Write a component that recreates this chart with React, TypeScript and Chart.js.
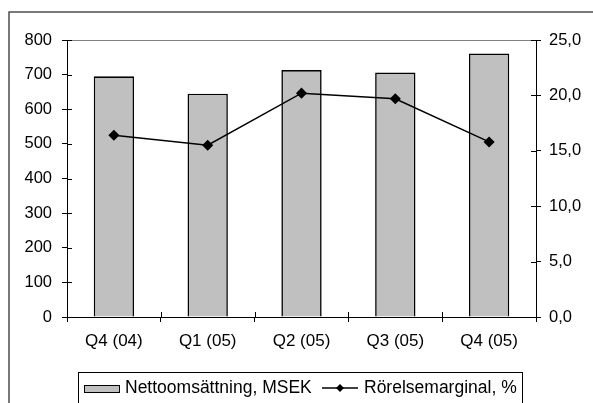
import React, { useEffect, useRef } from "react";
import { Chart, registerables } from "chart.js";

Chart.register(...registerables);

const categories = ["Q4 (04)", "Q1 (05)", "Q2 (05)", "Q3 (05)", "Q4 (05)"];
const revenue = [695, 645, 713, 706, 761];
const margin = [16.4, 15.5, 20.2, 19.7, 15.8];
const revenueLabel = "Nettoomsättning, MSEK";
const marginLabel = "Rörelsemarginal, %";

const FONT = '"Liberation Sans", Arial, sans-serif';

const decorPlugin = {
  id: "decor",
  beforeDraw(chart: any) {
    const ctx = chart.ctx;
    const a = chart.chartArea;
    ctx.save();
    ctx.fillStyle = "#ffffff";
    ctx.fillRect(0, 0, chart.width, chart.height);
    ctx.strokeStyle = "#808080";
    ctx.lineWidth = 1;
    ctx.strokeRect(Math.round(a.left) + 0.5, Math.round(a.top) + 0.5, Math.round(a.right - a.left), Math.round(a.bottom - a.top));
    ctx.restore();
  },
  afterDatasetsDraw(chart: any) {
    const ctx = chart.ctx;
    const a = chart.chartArea;
    ctx.save();
    ctx.strokeStyle = "#000000";
    ctx.lineWidth = 1;
    ctx.beginPath();
    const y = chart.scales.y;
    y.ticks.forEach((_t: any, i: number) => {
      const py = Math.round(y.getPixelForTick(i)) + 0.5;
      ctx.moveTo(a.left, py);
      ctx.lineTo(a.left + 5, py);
    });
    const y1 = chart.scales.y1;
    y1.ticks.forEach((_t: any, i: number) => {
      const py = Math.round(y1.getPixelForTick(i)) + 0.5;
      ctx.moveTo(a.right - 5, py);
      ctx.lineTo(a.right, py);
    });
    const x = chart.scales.x;
    const n = categories.length;
    for (let i = 0; i <= n; i++) {
      const px = Math.round(x.left + (i * (x.right - x.left)) / n) + 0.5;
      ctx.moveTo(px, a.bottom);
      ctx.lineTo(px, a.bottom - 5);
    }
    ctx.stroke();
    ctx.restore();
  },
  afterDraw(chart: any) {
    const ctx = chart.ctx;
    ctx.save();
    // outer frame
    ctx.strokeStyle = "#333333";
    ctx.lineWidth = 1.3;
    ctx.strokeRect(9, 12, chart.width + 20, chart.height + 20);
    // legend box
    ctx.strokeStyle = "#000000";
    ctx.lineWidth = 1;
    ctx.strokeRect(78.5, 372.5, 444, 60);
    // bar swatch
    ctx.fillStyle = "#c0c0c0";
    ctx.fillRect(84.5, 385.5, 35, 7);
    ctx.strokeRect(84.5, 385.5, 35, 7);
    ctx.fillStyle = "#000000";
    ctx.font = "17.5px " + FONT;
    ctx.textBaseline = "middle";
    ctx.textAlign = "left";
    ctx.fillText(revenueLabel, 125, 388);
    // line swatch
    ctx.beginPath();
    ctx.lineWidth = 1.5;
    ctx.moveTo(322, 388);
    ctx.lineTo(358, 388);
    ctx.stroke();
    ctx.beginPath();
    ctx.moveTo(340, 384);
    ctx.lineTo(344, 388);
    ctx.lineTo(340, 392);
    ctx.lineTo(336, 388);
    ctx.closePath();
    ctx.fill();
    ctx.fillText(marginLabel, 364, 388);
    ctx.restore();
  },
};

export default function App() {
  const ref = useRef<HTMLCanvasElement | null>(null);
  useEffect(() => {
    if (!ref.current) return;
    const chart = new Chart(ref.current, {
      type: "bar",
      data: {
        labels: categories,
        datasets: [
          {
            type: "line",
            label: marginLabel,
            data: margin,
            yAxisID: "y1",
            borderColor: "#000000",
            backgroundColor: "#000000",
            borderWidth: 1.5,
            pointStyle: "rectRot",
            pointRadius: 4.5,
            pointBackgroundColor: "#000000",
            pointBorderColor: "#000000",
            tension: 0,
            order: 0,
          } as any,
          {
            type: "bar",
            label: revenueLabel,
            data: revenue,
            yAxisID: "y",
            backgroundColor: "#c0c0c0",
            borderColor: "#000000",
            borderWidth: 1.6,
            borderSkipped: "bottom",
            barPercentage: 0.43,
            categoryPercentage: 1,
            order: 1,
          } as any,
        ],
      },
      options: {
        responsive: false,
        devicePixelRatio: 1,
        animation: false,
        layout: { padding: { top: 40, left: 0, right: 0, bottom: 0 } },
        plugins: { legend: { display: false }, tooltip: { enabled: false } },
        scales: {
          x: {
            offset: true,
            grid: { display: true, drawOnChartArea: false, offset: true, tickLength: 5, color: "#000000" },
            border: { display: true, color: "#000000", width: 1 },
            ticks: { color: "#000000", font: { family: FONT, size: 17 }, padding: 9, maxRotation: 0 },
            afterFit: (s: any) => { s.height = 86; },
          },
          y: {
            position: "left",
            min: 0,
            max: 800,
            grid: { display: true, drawOnChartArea: false, tickLength: 5, color: "#000000" },
            border: { display: true, color: "#000000", width: 1 },
            ticks: { stepSize: 100, color: "#000000", font: { family: FONT, size: 16.5 }, padding: 10 },
            afterFit: (s: any) => { s.width = 67; },
          },
          y1: {
            position: "right",
            min: 0,
            max: 25,
            grid: { display: true, drawOnChartArea: false, tickLength: 5, color: "#000000" },
            border: { display: true, color: "#000000", width: 1 },
            ticks: {
              stepSize: 5,
              color: "#000000",
              font: { family: FONT, size: 16.5 },
              padding: 8,
              callback: (v: any) => Number(v).toFixed(1).replace(".", ","),
            },
            afterFit: (s: any) => { s.width = 57; },
          },
        },
      },
      plugins: [decorPlugin],
    });
    return () => chart.destroy();
  }, []);
  return (
    <div style={{ position: "absolute", left: 0, top: 0, width: 593, height: 403 }}>
      <canvas ref={ref} width={593} height={403} style={{ display: "block", width: 593, height: 403 }} />
    </div>
  );
}
